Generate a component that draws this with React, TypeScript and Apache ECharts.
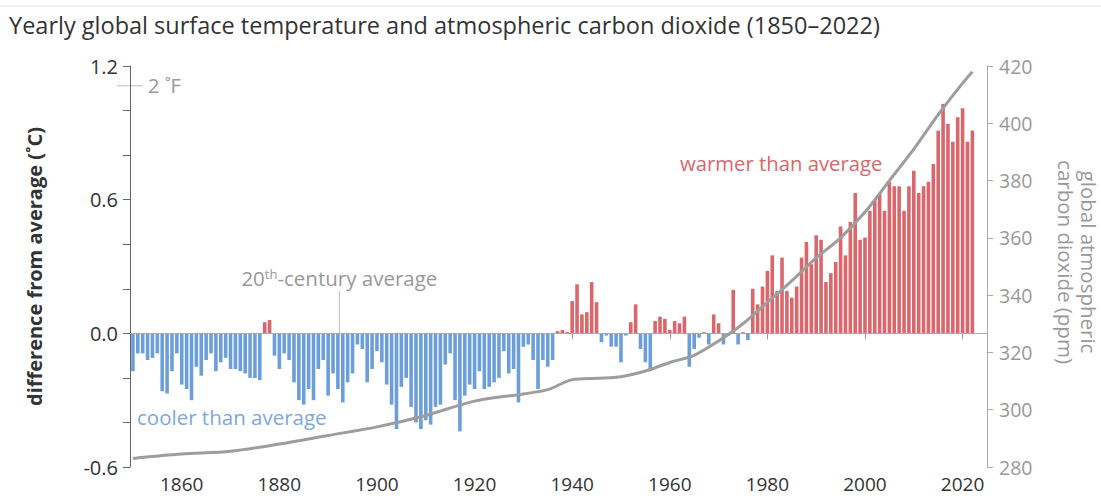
import React, { useEffect, useRef } from "react";
import * as echarts from "echarts";

const FIRST_YEAR = 1850;
const ANOMALY = [
  -0.17, -0.09, -0.09, -0.12, -0.11, -0.09, -0.26, -0.27, -0.17, -0.09,
  -0.23, -0.25, -0.30, -0.15, -0.19, -0.12, -0.09, -0.17, -0.13, -0.11,
  -0.16, -0.16, -0.17, -0.18, -0.20, -0.20, -0.21, 0.05, 0.06, -0.10,
  -0.16, -0.09, -0.12, -0.22, -0.30, -0.32, -0.25, -0.30, -0.16, -0.12,
  -0.28, -0.18, -0.25, -0.31, -0.22, -0.18, -0.05, -0.07, -0.22, -0.16,
  -0.08, -0.13, -0.23, -0.32, -0.43, -0.24, -0.20, -0.33, -0.40, -0.43,
  -0.39, -0.41, -0.33, -0.32, -0.14, -0.09, -0.30, -0.44, -0.28, -0.23,
  -0.25, -0.17, -0.25, -0.24, -0.22, -0.20, -0.08, -0.18, -0.16, -0.31,
  -0.06, -0.05, -0.12, -0.25, -0.12, -0.15, -0.12, 0.01, 0.015, 0.006,
  0.145, 0.22, 0.085, 0.095, 0.23, 0.14, -0.04, -0.01, -0.06, -0.06,
  -0.13, -0.01, 0.05, 0.13, -0.07, -0.13, -0.17, 0.055, 0.075, 0.065,
  0.015, 0.055, 0.045, 0.075, -0.15, -0.07, -0.02, 0.005, -0.05, 0.085,
  0.045, -0.05, -0.01, 0.195, -0.05, 0.005, -0.03, 0.2, 0.13, 0.21,
  0.28, 0.35, 0.19, 0.34, 0.19, 0.16, 0.21, 0.34, 0.41, 0.31,
  0.44, 0.42, 0.23, 0.27, 0.32, 0.48, 0.35, 0.5, 0.63, 0.42,
  0.43, 0.55, 0.6, 0.63, 0.55, 0.68, 0.66, 0.66, 0.55, 0.66,
  0.73, 0.63, 0.66, 0.68, 0.76, 0.91, 1.03, 0.94, 0.86, 0.97,
  1.01, 0.86, 0.91,
];
const YEARS = ANOMALY.map((_, i) => FIRST_YEAR + i);

const CO2_YEARS = [1850, 1860, 1870, 1880, 1890, 1900, 1910, 1920, 1930, 1935, 1940, 1945, 1950, 1955, 1960, 1965, 1970, 1975, 1980, 1985, 1990, 1995, 2000, 2005, 2010, 2015, 2020, 2022];
const CO2_PPM = [283, 284.5, 285.5, 288, 291, 294, 298, 303, 305.5, 307, 310.5, 311, 311.5, 313.5, 316.5, 319, 324, 330, 337.5, 345, 353, 360, 369, 380, 391, 403, 414, 418];

const X_TICKS = [1860, 1880, 1900, 1920, 1940, 1960, 1980, 2000, 2020];
const Y_LEFT_LABELS = [-0.6, 0, 0.6, 1.2];
const Y_LEFT_TICKS = [-0.6, -0.4, -0.2, 0, 0.2, 0.4, 0.6, 0.8, 1.0, 1.2];
const Y_RIGHT_TICKS = [280, 300, 320, 340, 360, 380, 400, 420];

const TITLE = "Yearly global surface temperature and atmospheric carbon dioxide (1850\u20132022)";
const FONT = "'Open Sans', 'DejaVu Sans', sans-serif";
const RED = "#d9676b";
const BLUE = "#6c9fda";
const GRAY = "#9d9d9d";

export default function App() {
  const ref = useRef<HTMLDivElement>(null);
  useEffect(() => {
    if (!ref.current) return;
    const chart = echarts.init(ref.current, null, { renderer: "svg" });
    chart.setOption({
      animation: false,
      backgroundColor: "#fff",
      textStyle: { fontFamily: FONT },
      title: {
        text: TITLE,
        left: 4,
        top: 8,
        textStyle: { fontFamily: FONT, fontSize: 23.5, fontWeight: "normal", color: "#333" },
      },
      grid: { left: 130, right: 114, top: 66, bottom: 35 },
      xAxis: {
        type: "value",
        min: 1849.4,
        max: 2025,
        axisLine: { show: true, lineStyle: { color: "#999" } },
        axisTick: { show: true, customValues: X_TICKS, length: 6, lineStyle: { color: "#999" } },
        axisLabel: {
          customValues: X_TICKS,
          formatter: (v: number) => String(Math.round(v)),
          color: "#333",
          fontSize: 19,
          fontFamily: FONT,
          margin: 7,
        },
        splitLine: { show: false },
      },
      yAxis: [
        {
          type: "value",
          min: -0.6,
          max: 1.2,
          position: "left",
          axisLine: { show: true, lineStyle: { color: "#666" } },
          axisTick: { show: true, customValues: Y_LEFT_TICKS, length: 7, lineStyle: { color: "#666" } },
          axisLabel: {
            customValues: Y_LEFT_LABELS,
            formatter: (v: number) => v.toFixed(1),
            color: "#333",
            fontSize: 20,
            fontFamily: FONT,
            margin: 12,
          },
          splitLine: { show: false },
          name: "difference from average (\u02daC)",
          nameLocation: "middle",
          nameGap: 86,
          nameTextStyle: { color: "#333", fontSize: 20, fontWeight: "bold", fontFamily: FONT },
        },
        {
          type: "value",
          min: 280,
          max: 420,
          position: "right",
          axisLine: { show: true, lineStyle: { color: "#aaa" } },
          axisTick: { show: true, customValues: Y_RIGHT_TICKS, length: 6, lineStyle: { color: "#aaa" } },
          axisLabel: { customValues: Y_RIGHT_TICKS, color: "#999", fontSize: 19.5, fontFamily: FONT, margin: 12 },
          splitLine: { show: false },
        },
      ],
      series: [
        {
          type: "bar",
          yAxisIndex: 0,
          barWidth: 3.6,
          data: YEARS.map((y, i) => [y, ANOMALY[i]]),
          itemStyle: { color: (p: any) => (p.value[1] >= 0 ? RED : BLUE) },
          markLine: {
            silent: true,
            symbol: "none",
            label: { show: false },
            lineStyle: { color: "#aaa", width: 1, type: "solid" },
            data: [{ yAxis: 0 }],
          },
        },
        {
          type: "line",
          yAxisIndex: 1,
          smooth: 0.3,
          symbol: "none",
          z: 5,
          lineStyle: { color: GRAY, width: 3 },
          data: CO2_YEARS.map((y, i) => [y, CO2_PPM[i]]),
        },
      ],
    });

    const px = (x: number, y: number) => chart.convertToPixel({ gridIndex: 0 } as any, [x, y]) as number[];
    const fY = px(1850, 2 / 1.8)[1];
    const axisX = px(1849.4, 0)[0];
    const avgX = px(1892.3, 0);
    const avgTop = px(1892.3, 0.19);
    const avgText = px(1892.3, 0.25);

    chart.setOption({
      graphic: [
        { type: "line", shape: { x1: 0, y1: 6, x2: 1101, y2: 6 }, style: { stroke: "#e3e3e3", lineWidth: 1 } },
        { type: "line", shape: { x1: axisX - 13, y1: fY, x2: axisX + 13, y2: fY }, style: { stroke: "#bbb", lineWidth: 1 } },
        {
          type: "text",
          x: axisX + 18,
          y: fY,
          style: { text: "2 \u02daF", fill: "#999", fontSize: 20, fontFamily: FONT, align: "left", verticalAlign: "middle" },
        },
        { type: "line", shape: { x1: avgX[0], y1: avgTop[1], x2: avgX[0], y2: avgX[1] }, style: { stroke: "#bbb", lineWidth: 1 } },
        {
          type: "text",
          x: avgText[0],
          y: avgText[1],
          style: {
            text: "{a|20}{s|th}{a|-century average}",
            align: "center",
            verticalAlign: "middle",
            fontFamily: FONT,
            rich: {
              a: { fontSize: 20.5, fill: "#999", fontFamily: FONT },
              s: { fontSize: 13, fill: "#999", fontFamily: FONT, padding: [0, 0, 8, 0] },
            },
          },
        },
        {
          type: "text",
          x: 680,
          y: 163,
          style: { text: "warmer than average", fill: RED, fontSize: 20.3, fontFamily: FONT, align: "left", verticalAlign: "middle" },
        },
        {
          type: "text",
          x: 137,
          y: 417,
          style: { text: "cooler than average", fill: "#7ea8da", fontSize: 20.5, fontFamily: FONT, align: "left", verticalAlign: "middle" },
        },
        {
          type: "text",
          x: 1077,
          y: 262,
          rotation: -Math.PI / 2,
          style: {
            text: "global atmospheric\ncarbon dioxide (ppm)",
            fill: "#999",
            fontSize: 20.5,
            lineHeight: 23,
            fontFamily: FONT,
            align: "center",
            verticalAlign: "middle",
          },
        },
      ],
    });

    return () => chart.dispose();
  }, []);
  return <div ref={ref} style={{ position: "fixed", left: 0, top: 0, width: 1101, height: 502 }} />;
}
